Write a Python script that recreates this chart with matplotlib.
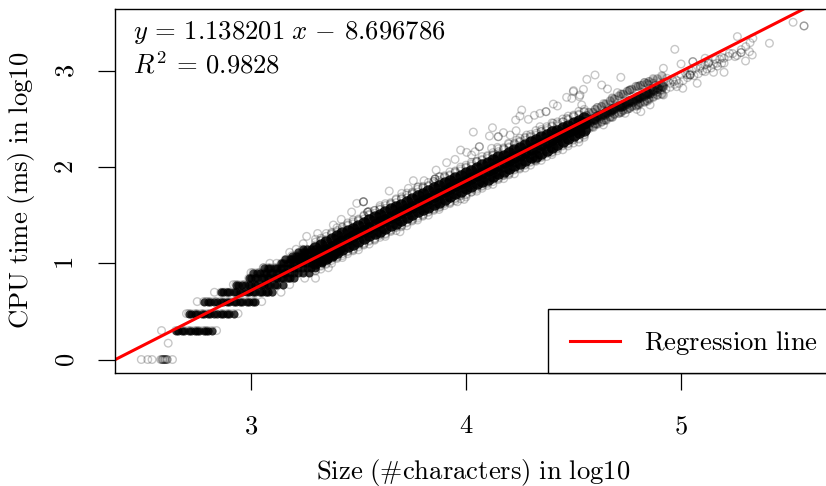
import matplotlib
matplotlib.use("Agg")
import matplotlib.pyplot as plt
from matplotlib.patches import Rectangle

plt.rcParams['mathtext.fontset'] = 'cm'

# regression line actually drawn (the printed intercept differs from the drawn one)
slope = 1.138201
intercept = -2.696786

# quantised CPU times: one row of sizes per level
row_levels = [0.301, 0.477, 0.602, 0.699, 0.778, 0.845, 0.903, 0.954, 1.000, 1.041, 1.079, 1.114, 1.146]
row_sizes = [
    [2.65, 2.66, 2.68, 2.69, 2.71, 2.72, 2.74, 2.75, 2.76, 2.78, 2.79, 2.80, 2.82],
    [2.71, 2.72, 2.74, 2.75, 2.77, 2.78, 2.80, 2.81, 2.83, 2.84, 2.86, 2.87, 2.89, 2.90, 2.92],
    [2.78, 2.80, 2.81, 2.83, 2.84, 2.86, 2.87, 2.89, 2.90, 2.92, 2.93, 2.95, 2.96, 2.98, 2.99, 3.01, 3.02],
    [2.86, 2.87, 2.89, 2.90, 2.92, 2.93, 2.95, 2.96, 2.98, 2.99, 3.01, 3.02, 3.04, 3.05, 3.07, 3.08, 3.10],
    [2.93, 2.94, 2.96, 2.97, 2.99, 3.00, 3.02, 3.03, 3.05, 3.06, 3.08, 3.09, 3.11, 3.12, 3.15],
    [2.99, 3.00, 3.02, 3.03, 3.05, 3.06, 3.08, 3.09, 3.11, 3.12, 3.14, 3.15, 3.17, 3.18, 3.20],
    [3.01, 3.03, 3.04, 3.06, 3.07, 3.09, 3.10, 3.12, 3.13, 3.15, 3.16, 3.18, 3.20, 3.22, 3.24, 3.27],
    [3.06, 3.08, 3.09, 3.11, 3.12, 3.14, 3.15, 3.17, 3.18, 3.20, 3.22, 3.24, 3.26, 3.28, 3.30],
    [3.14, 3.15, 3.17, 3.18, 3.20, 3.21, 3.23, 3.24, 3.26, 3.28, 3.30, 3.33],
    [3.16, 3.18, 3.19, 3.21, 3.22, 3.24, 3.25, 3.27, 3.29, 3.31, 3.33, 3.36],
    [3.19, 3.21, 3.22, 3.24, 3.25, 3.27, 3.29, 3.31, 3.33, 3.35, 3.38],
    [3.22, 3.24, 3.25, 3.27, 3.29, 3.31, 3.33, 3.36, 3.40],
    [3.24, 3.26, 3.28, 3.30, 3.32, 3.34, 3.37, 3.42],
]

# dark body of the cloud, read column by column
core_x = [3.300, 3.325, 3.350, 3.375, 3.400, 3.425, 3.450, 3.475, 3.500, 3.525,
          3.550, 3.575, 3.600, 3.625, 3.650, 3.675, 3.700, 3.725, 3.750, 3.775,
          3.800, 3.825, 3.850, 3.875, 3.900, 3.925, 3.950, 3.975, 4.000, 4.025,
          4.050, 4.075, 4.100, 4.125, 4.150, 4.175, 4.200, 4.225, 4.250, 4.275,
          4.300, 4.325, 4.350, 4.375, 4.400, 4.425, 4.450, 4.475, 4.500, 4.525, 4.550]
core_mid = [1.08, 1.11, 1.14, 1.17, 1.20, 1.23, 1.255, 1.285, 1.31, 1.34,
            1.37, 1.395, 1.425, 1.45, 1.48, 1.505, 1.535, 1.56, 1.59, 1.62,
            1.645, 1.67, 1.70, 1.725, 1.755, 1.78, 1.81, 1.835, 1.86, 1.885,
            1.915, 1.94, 1.965, 1.995, 2.02, 2.05, 2.075, 2.10, 2.13, 2.155,
            2.185, 2.21, 2.24, 2.265, 2.295, 2.32, 2.345, 2.375, 2.40, 2.43, 2.455]
core_hi = [1.16, 1.19, 1.22, 1.25, 1.28, 1.31, 1.34, 1.36, 1.39, 1.42,
           1.45, 1.48, 1.50, 1.53, 1.56, 1.59, 1.61, 1.64, 1.67, 1.70,
           1.72, 1.75, 1.78, 1.80, 1.83, 1.86, 1.89, 1.91, 1.94, 1.96,
           1.99, 2.02, 2.04, 2.07, 2.10, 2.12, 2.15, 2.18, 2.20, 2.23,
           2.26, 2.28, 2.31, 2.33, 2.36, 2.38, 2.41, 2.43, 2.46, 2.48, 2.51]
core_lo = [1.00, 1.03, 1.06, 1.09, 1.12, 1.15, 1.18, 1.20, 1.23, 1.26,
           1.29, 1.31, 1.34, 1.37, 1.40, 1.42, 1.45, 1.48, 1.51, 1.54,
           1.56, 1.59, 1.62, 1.64, 1.67, 1.70, 1.73, 1.75, 1.78, 1.80,
           1.83, 1.86, 1.88, 1.91, 1.94, 1.96, 1.99, 2.02, 2.04, 2.07,
           2.10, 2.12, 2.15, 2.18, 2.21, 2.24, 2.27, 2.30, 2.33, 2.36, 2.39]
fringe_top = [1.22, 1.23, 1.28, 1.31, 1.32, 1.37, 1.39, 1.41, 1.45, 1.46,
              1.51, 1.52, 1.56, 1.57, 1.62, 1.63, 1.67, 1.68, 1.73, 1.74,
              1.78, 1.80, 1.83, 1.84, 1.89, 1.91, 1.94, 1.96, 2.00, 2.01,
              2.05, 2.07, 2.09, 2.13, 2.14, 2.18, 2.20, 2.23, 2.26, 2.28,
              2.31, 2.33, 2.37, 2.38, 2.42, 2.43, 2.47, 2.49, 2.52, 2.54, 2.57]
fringe_bot = [0.96, 0.98, 1.02, 1.03, 1.07, 1.10, 1.12, 1.15, 1.17, 1.21,
              1.23, 1.26, 1.29, 1.31, 1.35, 1.37, 1.39, 1.43, 1.45, 1.49,
              1.50, 1.54, 1.56, 1.60, 1.62, 1.64, 1.68, 1.70, 1.72, 1.76,
              1.77, 1.81, 1.83, 1.87, 1.88, 1.92, 1.94, 1.97, 2.00, 2.03,
              2.05, 2.08, 2.11, 2.14, 2.16, 2.20, 2.22, 2.25, 2.28, 2.30, 2.33]
fringe2_top = [1.19, 1.24, 1.25, 1.30, 1.34, 1.35, 1.40, 1.43, 1.44, 1.49,
               1.50, 1.55, 1.56, 1.60, 1.61, 1.66, 1.67, 1.71, 1.72, 1.77,
               1.79, 1.81, 1.85, 1.86, 1.90, 1.92, 1.95, 1.98, 1.99, 2.03,
               2.06, 2.08, 2.11, 2.12, 2.16, 2.19, 2.21, 2.24, 2.27, 2.30,
               2.32, 2.35, 2.37, 2.40, 2.43, 2.45, 2.47, 2.50, 2.53, 2.55, 2.58]
fringe2_bot = [0.93, 0.97, 1.00, 1.05, 1.06, 1.08, 1.13, 1.14, 1.19, 1.20,
               1.24, 1.25, 1.30, 1.30, 1.34, 1.38, 1.40, 1.42, 1.46, 1.47,
               1.51, 1.53, 1.57, 1.58, 1.63, 1.63, 1.67, 1.71, 1.71, 1.74,
               1.79, 1.80, 1.84, 1.85, 1.89, 1.91, 1.93, 1.98, 1.99, 2.02,
               2.06, 2.07, 2.10, 2.15, 2.15, 2.19, 2.23, 2.24, 2.29, 2.29, 2.34]
fringe3_top = [1.25, 1.26, 1.31, 1.32, 1.37, 1.38, 1.42, 1.45, 1.46, 1.50,
               1.54, 1.55, 1.58, 1.62, 1.63, 1.67, 1.69, 1.73, 1.74, 1.79,
               1.80, 1.84, 1.85, 1.90, 1.91, 1.95, 1.96, 2.00, 2.02, 2.05,
               2.06, 2.11, 2.12, 2.15, 2.19, 2.20, 2.24, 2.25, 2.30, 2.31,
               2.34, 2.38, 2.39, 2.42, 2.46, 2.47, 2.50, 2.53, 2.54, 2.58, 2.60]
fringe3_bot = [0.92, 0.94, 0.99, 1.00, 1.05, 1.06, 1.10, 1.13, 1.14, 1.19,
               1.20, 1.24, 1.27, 1.28, 1.33, 1.34, 1.38, 1.39, 1.44, 1.45,
               1.49, 1.50, 1.55, 1.56, 1.60, 1.62, 1.65, 1.67, 1.69, 1.74,
               1.75, 1.78, 1.81, 1.82, 1.87, 1.88, 1.92, 1.93, 1.98, 1.99,
               2.02, 2.06, 2.07, 2.11, 2.13, 2.17, 2.18, 2.22, 2.25, 2.26, 2.31]

# thinner part of the cloud above 4.55
tail_x = [4.56, 4.57, 4.59, 4.60, 4.61, 4.63, 4.64, 4.65, 4.67, 4.68, 4.69, 4.71, 4.72,
          4.73, 4.75, 4.76, 4.77, 4.79, 4.80, 4.81, 4.83, 4.84, 4.85, 4.87, 4.89, 4.91]
tail_a = [2.54, 2.57, 2.57, 2.60, 2.62, 2.63, 2.66, 2.66, 2.69, 2.72, 2.71, 2.74, 2.76,
          2.76, 2.79, 2.80, 2.81, 2.84, 2.84, 2.85, 2.88, 2.87, 2.89, 2.92, 2.92, 2.95]
tail_b = [2.46, 2.47, 2.50, 2.50, 2.53, 2.54, 2.55, 2.57, 2.58, 2.60, 2.61, 2.63, 2.64,
          2.65, 2.67, 2.69, 2.69, 2.71, 2.73, 2.73, 2.75, 2.77, 2.77, 2.80, 2.82, 2.84]
tail_c = [2.39, 2.41, 2.42, 2.45, 2.45, 2.47, 2.49, 2.49, 2.52, 2.52, 2.55, 2.56, 2.57,
          2.59, 2.60, 2.61, 2.63, 2.64, 2.65, 2.67, 2.68, 2.69, 2.71, 2.73, 2.75, 2.76]
end_x = [4.86, 4.87, 4.88, 4.89, 4.90, 4.91, 4.92, 4.93, 4.94, 4.95, 4.96, 4.97, 4.98,
         4.99, 5.00, 5.01, 5.02, 5.03, 5.04, 5.05, 5.06, 5.07, 5.08, 5.09, 5.10, 5.11,
         5.12, 5.13, 5.14, 5.15, 5.16, 5.17, 5.18, 5.19, 5.20, 5.22, 5.24, 5.26, 5.28]
end_y = [2.82, 2.76, 2.85, 2.78, 2.84, 2.80, 2.88, 2.81, 2.89, 2.83, 2.91, 2.86, 2.90,
         2.87, 2.96, 2.90, 2.98, 2.93, 2.97, 3.00, 2.95, 3.03, 2.97, 3.05, 3.00, 3.06,
         3.02, 3.09, 3.03, 3.07, 3.12, 3.05, 3.12, 3.14, 3.08, 3.15, 3.18, 3.16, 3.22]

# single circles that stand out around the cloud
loose_x = [2.49, 2.52, 2.54, 2.58, 2.585, 2.59, 2.59, 2.595, 2.60, 2.60, 2.605, 2.61, 2.61, 2.635, 2.615,
           2.584, 2.84, 2.70, 2.94, 2.75, 2.79, 3.05, 2.83, 2.88, 3.14, 2.918, 3.18,
           3.00, 3.057, 3.088, 3.119, 3.18, 3.25, 3.30, 3.36, 3.21, 3.243, 3.259, 3.31,
           3.383, 3.42,
           4.034, 4.123, 4.150, 4.150, 4.109, 4.174, 4.205, 4.233, 4.231, 4.259, 4.251,
           4.290, 4.318, 4.344, 4.372, 4.372, 4.406, 4.425, 4.468, 4.492, 4.530, 4.499,
           3.975, 4.003, 4.062, 4.062, 4.042, 4.026, 3.949, 3.910, 3.861, 3.856, 3.856,
           3.856, 3.755, 3.805, 3.643, 3.523, 3.523, 3.523, 3.492, 3.543, 3.543, 3.543,
           3.468, 3.600, 3.701, 3.732, 3.778, 3.879, 4.119, 4.146, 4.197, 4.236, 4.282,
           4.344, 4.406, 4.468, 3.960, 3.991, 3.693, 3.879, 4.174, 4.321, 4.422,
           5.572, 5.572, 5.521, 5.411, 5.262, 5.334, 5.321, 5.301, 5.318, 5.331, 5.300,
           5.279, 5.279, 5.251, 5.225, 5.200, 5.189, 5.200, 5.151, 5.127, 5.127, 5.112,
           5.112, 5.055, 5.055, 5.000, 4.971, 4.918, 5.042, 5.042, 5.042, 5.075, 5.008,
           4.980, 4.934, 4.949, 4.918, 4.872, 4.822, 4.856, 4.813, 4.794, 4.720, 4.600,
           4.562, 4.631, 4.658, 4.546, 4.500, 4.527, 4.704, 4.763, 4.848, 4.538, 4.740,
           4.639, 5.027, 4.965, 5.166, 5.089, 4.903]
loose_y = [0.0, 0.0, 0.0, 0.0, 0.0, 0.0, 0.0, 0.0, 0.0, 0.0, 0.0, 0.0, 0.0, 0.0, 0.17,
           0.301, 0.301, 0.477, 0.477, 0.602, 0.602, 0.602, 0.699, 0.699, 0.699, 0.778, 0.778,
           0.903, 0.954, 1.0, 1.0, 1.114, 0.845, 0.845, 0.954, 1.146, 1.204, 1.28, 1.31,
           1.398, 1.457,
           2.364, 2.409, 2.316, 2.316, 2.323, 2.358, 2.333, 2.378, 2.489, 2.593, 2.531,
           2.496, 2.538, 2.558, 2.576, 2.576, 2.655, 2.635, 2.725, 2.714, 2.749, 2.784,
           2.177, 2.153, 2.212, 2.212, 2.160, 2.125, 2.080, 2.046, 1.969, 1.876, 1.876,
           1.876, 1.859, 1.859, 1.751, 1.640, 1.640, 1.640, 1.623, 1.533, 1.533, 1.533,
           1.533, 1.599, 1.727, 1.779, 1.796, 1.900, 2.195, 2.205, 2.247, 2.281, 2.333,
           2.420, 2.455, 2.506, 1.640, 1.664, 1.328, 1.588, 1.917, 2.073, 2.212,
           3.467, 3.467, 3.505, 3.287, 3.356, 3.339, 3.293, 3.252, 3.200, 3.165, 3.103,
           3.190, 3.190, 3.148, 3.183, 3.131, 3.079, 2.985, 2.985, 3.079, 3.079, 3.131,
           2.992, 3.096, 3.096, 3.072, 3.224, 3.027, 2.957, 2.957, 2.957, 2.871, 2.819,
           2.836, 2.923, 2.871, 2.749, 2.871, 2.853, 2.646, 2.576, 2.600, 2.933, 2.957,
           2.912, 2.853, 2.812, 2.808, 2.795, 2.732, 2.774, 2.801, 2.853, 2.646, 2.559,
           2.438, 2.957, 2.888, 3.079, 3.027, 2.801]

xticks = [3, 4, 5]
yticks = [0, 1, 2, 3]

W, H = 826, 486
fig = plt.figure(figsize=(W / 100, H / 100), dpi=100)
# right side of the box runs past the edge of the picture
ax = fig.add_axes([115.5 / W, 1 - 373 / H, (832 - 115.5) / W, (373 - 9) / H])
ax.set_xlim(2.37, 5.702)
ax.set_ylim(-0.14, 3.643)

ring = dict(facecolors='none', edgecolors='black', s=30, linewidths=1.0, alpha=0.22)

for level, sizes in zip(row_levels, row_sizes):
    ax.scatter(sizes, [level] * len(sizes), s=34, color='black', linewidths=0, alpha=0.75)
    ax.scatter(sizes, [level] * len(sizes), **ring)
for ys in (core_hi, core_mid, core_lo):
    ax.scatter(core_x, ys, s=80, color='black', linewidths=0, alpha=0.85)
for ys in (fringe_top, fringe_bot, fringe2_top, fringe2_bot, fringe3_top, fringe3_bot):
    ax.scatter(core_x, ys, **ring)
for ys in (tail_a, tail_b, tail_c):
    ax.scatter(tail_x, ys, **ring)
    ax.scatter(tail_x, ys, s=40, color='black', linewidths=0, alpha=0.22)
ax.scatter(tail_x, tail_b, s=60, color='black', linewidths=0, alpha=0.5)
ax.scatter(end_x, end_y, **ring)
ax.scatter(loose_x, loose_y, **ring)

ax.axline((0, intercept), slope=slope, color='red', lw=2.2, label=r'$\mathrm{Regression}\ \mathrm{line}$')

ax.set_xticks(xticks)
ax.set_xticklabels([f'${t}$' for t in xticks])
ax.set_yticks(yticks)
ax.set_yticklabels([f'${t}$' for t in yticks], rotation=90, va='center')
ax.tick_params(axis='x', length=12, width=0.9, pad=17, labelsize=19)
ax.tick_params(axis='y', length=12, width=0.9, pad=14, labelsize=19)
for spine in ax.spines.values():
    spine.set_linewidth(1.0)

fig.text(473 / W, 1 - 472 / H, r'$\mathrm{Size}\ (\#\mathrm{characters})\ \mathrm{in}\ \mathrm{log10}$',
         ha='center', va='center', fontsize=19.2)
fig.text(22 / W, 1 - 190 / H, r'$\mathrm{CPU}\ \mathrm{time}\ (\mathrm{ms})\ \mathrm{in}\ \mathrm{log10}$',
         ha='center', va='center', rotation=90, fontsize=19.2)

ax.text(133 / W, 1 - 33 / H, r'$y\,=\,1.138201\;x\,-\,8.696786$',
        transform=fig.transFigure, ha='left', va='center', fontsize=19.2)
ax.text(133 / W, 1 - 66 / H, r'$R^2\,=\,0.9828$',
        transform=fig.transFigure, ha='left', va='center', fontsize=19.2)

# legend box is cut by the right edge, so frame and entry are placed apart
ax.add_patch(Rectangle((548 / W, 1 - 373 / H), 300 / W, 64 / H, transform=fig.transFigure,
                       facecolor='white', edgecolor='black', linewidth=1.0, zorder=5,
                       clip_on=False))
leg = ax.legend(loc='center left', bbox_to_anchor=(570 / W, 1 - 343 / H),
                bbox_transform=fig.transFigure, borderaxespad=0, borderpad=0,
                frameon=False, prop={'size': 19.2}, handlelength=1.87, handletextpad=0.9)
leg.set_zorder(6)

fig.savefig('out.png', dpi=100)
